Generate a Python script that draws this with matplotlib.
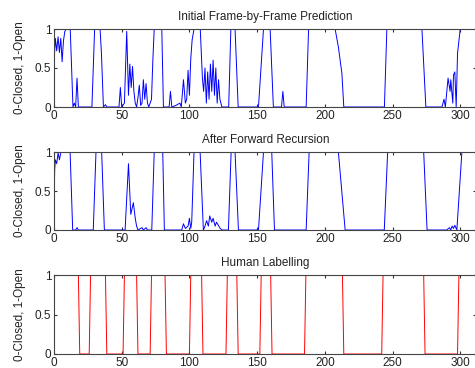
import matplotlib
matplotlib.use("Agg")
import matplotlib.pyplot as plt
import numpy as np

plt.rcParams['font.family'] = ['Liberation Sans', 'DejaVu Sans']

# ---- data ----
pred_frames = [0, 1, 2, 3, 4, 5, 6, 7, 8, 9, 12, 13, 14, 15, 16, 17, 18, 28, 29, 30, 34, 35, 36.5, 38, 39,
               48, 49, 50, 52, 53.7, 55, 56, 57, 58, 59, 60, 61, 62, 63, 64, 65, 66, 67, 68, 69, 70, 72, 73, 74,
               79.6, 80.8, 85, 86, 87, 90, 93, 94, 95.6, 97, 98, 99, 100, 101, 102, 103.4, 108, 109.6, 110.5,
               111.5, 112.5, 113.5, 114.5, 115.5, 116.5, 117.5, 118.5, 119.5, 120.5, 121.5, 122.5, 124, 129,
               130.6, 133.7, 136, 151, 154.7, 159.6, 162, 168, 169, 170, 186.2, 188, 207.6, 210, 212.6, 214,
               244, 245.8, 271.7, 274.6, 286.5, 288, 289, 291, 292.5, 293, 294.5, 295, 296, 297, 298, 300, 312]
pred_values = [0.56, 0.88, 0.72, 0.9, 0.7, 0.88, 0.58, 0.85, 0.97, 1.0, 0.99, 0.5, 0.0, 0.05, 0.0, 0.37, 0.0,
               0.0, 0.5, 1.0, 1.0, 0.7, 0.0, 0.03, 0.0,
               0.0, 0.25, 0.0, 0.05, 0.97, 0.15, 0.55, 0.25, 0.52, 0.2, 0.05, 0.0, 0.12, 0.28, 0.02, 0.05, 0.35,
               0.1, 0.3, 0.05, 0.0, 0.1, 0.6, 1.0,
               1.0, 0.0, 0.0, 0.2, 0.0, 0.02, 0.05, 0.0, 0.35, 0.05, 0.1, 0.47, 0.15, 0.62, 0.86, 1.0, 1.0, 0.37,
               0.2, 0.5, 0.05, 0.45, 0.1, 0.55, 0.2, 0.6, 0.15, 0.5, 0.05, 0.35, 0.1, 0.0, 0.0,
               1.0, 1.0, 0.0, 0.0, 1.0, 1.0, 0.0, 0.0, 0.2, 0.0, 0.0, 1.0, 1.0, 0.77, 0.43, 0.0,
               0.0, 1.0, 1.0, 0.0, 0.0, 0.1, 0.0, 0.37, 0.2, 0.35, 0.05, 0.41, 0.45, 0.0, 0.69, 1.0, 1.0]

fwd_frames = [0, 0.5, 1, 2, 3, 4, 5, 6, 11.9, 13.8, 16, 17, 18, 29, 31, 35.2, 37.2, 52.5, 55, 56.7, 58.6, 60,
              61, 62, 65, 66, 68, 69, 72.2, 74, 80.3, 81.5, 94.3, 95.6, 97, 99, 100, 101, 101.7, 103.4, 107.9,
              110.3, 111.5, 112.7, 114, 115, 116.5, 117.5, 119, 120, 122.7, 124, 128.8, 130.8, 133.7, 136.2,
              151, 154.7, 160.8, 162.8, 186.2, 188.4, 210, 215, 243.9, 246.4, 273, 275.5, 290, 292, 293, 294,
              295, 296, 297.5, 301.2, 312]
fwd_values = [0.3, 0.77, 0.9, 0.85, 0.99, 0.9, 0.99, 1.0, 1.0, 0.0, 0.0, 0.03, 0.0, 0.0, 1.0, 1.0, 0.0, 0.0,
              0.85, 0.2, 0.35, 0.15, 0.05, 0.0, 0.03, 0.0, 0.03, 0.0, 0.0, 1.0, 1.0, 0.0, 0.0, 0.08, 0.02,
              0.05, 0.15, 0.02, 0.1, 1.0, 1.0, 0.0, 0.05, 0.12, 0.05, 0.18, 0.1, 0.15, 0.05, 0.1, 0.02, 0.0,
              0.0, 1.0, 1.0, 0.0, 0.0, 1.0, 1.0, 0.0, 0.0, 1.0, 1.0, 0.0, 0.0, 1.0, 1.0, 0.0, 0.0, 0.03, 0.0,
              0.05, 0.02, 0.06, 0.0, 1.0, 1.0]

# human labelling: frames where label switches, starting state open (1)
human_switch_frames = [19, 27, 39, 52, 62, 72, 83, 101, 110, 128, 136, 153, 161, 186, 214, 243, 274, 299]
human_start_state = 1
n_frames = 312

titles = ["Initial Frame-by-Frame Prediction", "After Forward Recursion", "Human Labelling"]
ylabel = "0-Closed, 1-Open"
xticks = [0, 50, 100, 150, 200, 250, 300]
yticks = [0, 0.5, 1]
yticklabels = ["0", "0.5", "1"]

# build human label step line (one-frame transitions)
hx, hy = [0], [human_start_state]
state = human_start_state
for f in human_switch_frames:
    hx.append(f - 1); hy.append(state)
    state = 1 - state
    hx.append(f); hy.append(state)
hx.append(n_frames); hy.append(state)

fig = plt.figure(figsize=(4.75, 3.68), dpi=100)
W, H = 475, 368
left = 54 / W
width = (476.5 - 54) / W
boxes = [(29, 107), (152, 230), (275, 354)]
series = [(pred_frames, pred_values, 'blue'), (fwd_frames, fwd_values, 'blue'), (hx, hy, 'red')]
txtc = '#222222'
for (top, bot), (xs, ys, c), t in zip(boxes, series, titles):
    ax = fig.add_axes([left, (H - bot) / H, width, (bot - top) / H])
    ax.plot(xs, ys, color=c, lw=0.7)
    ax.set_xlim(0, 312)
    ax.set_ylim(0, 1)
    ax.set_xticks(xticks)
    ax.set_yticks(yticks)
    ax.set_yticklabels(yticklabels)
    ax.tick_params(direction='in', top=True, right=True, length=2.5, width=0.8,
                   colors='#333333', labelcolor=txtc, labelsize=8.5, pad=2)
    for s in ax.spines.values():
        s.set_color('#444444')
        s.set_linewidth(0.8)
    ax.set_title(t, fontsize=8.5, color=txtc, pad=6.5)
    ax.set_ylabel(ylabel, fontsize=8.5, color=txtc, labelpad=6)

fig.savefig("out.png", dpi=100, facecolor='white')
